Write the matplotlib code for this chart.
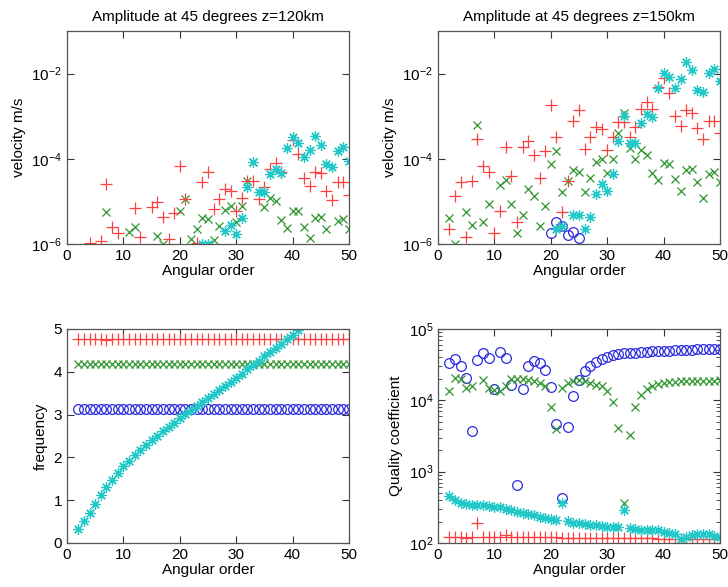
import numpy as np
import matplotlib
matplotlib.use("Agg")
import matplotlib.pyplot as plt
from matplotlib.ticker import LogLocator, NullLocator

plt.rcParams['font.family'] = ['Liberation Sans', 'DejaVu Sans']
plt.rcParams['mathtext.default'] = 'regular'

RED = '#ff4040'
GREEN = '#2f962f'
CYAN = '#22c8c8'
BLUE = '#2a2ae0'

# ---- top left: amplitude at z=120km ----
tl_red_l = [4, 6, 7, 8, 9, 12, 13, 15, 16, 17, 18, 19, 20, 21, 23, 24, 25, 26, 27, 28,
            29, 30, 31, 32, 33, 34, 35, 36, 37, 38, 40, 41, 42, 43, 44, 45, 46, 47, 48, 49, 50]
tl_red_v = [1.05e-6, 1.15e-6, 2.6e-5, 2.45e-6, 1.8e-6, 6.9e-6, 1.45e-6, 7.2e-6, 9.5e-6, 4.3e-6,
            1.3e-6, 5.4e-6, 6.6e-5, 1.15e-5, 1.05e-6, 2.8e-5, 5.0e-5, 6.5e-6, 1.15e-5, 2.0e-5,
            1.8e-5, 5.9e-6, 1.2e-5, 2.95e-5, 2.95e-5, 1.15e-5, 2.2e-5, 5.9e-5, 8.1e-5, 5.0e-5,
            2.8e-4, 1.3e-4, 3.5e-5, 2.35e-5, 5.0e-5, 4.6e-5, 1.8e-5, 1.05e-5, 2.8e-5, 2.8e-5, 1.45e-5]
tl_green_l = [7, 11, 12, 16, 17, 20, 21, 22, 23, 24, 25, 26, 27, 28, 29, 30, 31, 32, 33,
              35, 36, 37, 38, 39, 40, 41, 42, 43, 44, 45, 46, 48, 49, 50]
tl_green_v = [5.6e-6, 1.9e-6, 2.45e-6, 1.5e-6, 1.0e-6, 5.9e-6, 1.15e-5, 1.3e-6, 2.3e-6, 4.1e-6,
              3.9e-6, 1.25e-6, 2.6e-6, 6.3e-6, 7.6e-6, 3.3e-6, 7.6e-6, 2.95e-5, 8.3e-5,
              7.4e-6, 1.23e-5, 1.0e-5, 3.7e-6, 2.4e-6, 5.9e-6, 5.9e-6, 2.5e-6, 1.4e-6, 4.1e-6,
              4.3e-6, 2.2e-6, 3.5e-6, 3.9e-6, 2.2e-6]
tl_cyan_l = [24, 25, 28, 29, 30, 31, 32, 33, 34, 35, 36, 37, 38, 39, 40, 41, 42, 43, 44, 45,
             46, 47, 48, 49, 50]
tl_cyan_v = [1.0e-6, 1.0e-6, 2.0e-6, 2.8e-6, 1.7e-6, 4.1e-6, 2.2e-5, 8.3e-5, 1.7e-5, 1.7e-5,
             4.4e-5, 5.9e-5, 4.6e-5, 1.8e-4, 3.3e-4, 2.3e-4, 1.1e-4, 1.6e-4, 3.5e-4, 2.1e-4,
             7.4e-5, 6.3e-5, 1.55e-4, 1.85e-4, 9.1e-5]

# ---- top right: amplitude at z=150km ----
tr_red_l = list(range(2, 51))
tr_red_v = [2.2e-6, 1.35e-5, 2.9e-5, 1.45e-6, 2.95e-5, 2.95e-4, 6.6e-5, 4.9e-5, 1.8e-6, 5.8e-6,
            1.9e-4, 4.0e-5, 3.3e-6, 1.9e-4, 2.6e-4, 1.2e-4, 3.5e-5, 1.5e-4, 1.8e-3, 3.2e-4,
            5.5e-6, 2.95e-5, 7.6e-4, 1.4e-3, 1.7e-4, 3.2e-4, 5.6e-4, 5.0e-4, 1.6e-4, 3.2e-4,
            7.2e-4, 7.2e-4, 3.2e-4, 5.6e-4, 1.5e-3, 2.2e-3, 1.5e-3, 4.9e-3, 7.9e-3, 3.5e-3,
            1.0e-3, 6.0e-4, 1.4e-3, 1.2e-3, 5.2e-4, 2.95e-4, 7.9e-4, 7.9e-4, 4.1e-4]
tr_green_l = [2, 3, 5, 6, 7, 8, 9, 11, 12, 13, 14, 15, 16, 17, 18, 19, 20, 21, 22, 23, 24, 25,
              26, 27, 28, 29, 30, 31, 32, 33, 34, 35, 36, 37, 38, 39, 40, 41, 42, 43, 44, 45,
              46, 47, 48, 49, 50]
tr_green_v = [4.1e-6, 1.0e-6, 5.5e-6, 2.8e-6, 6.3e-4, 3.2e-6, 8.9e-6, 2.4e-5, 3.2e-5, 8.9e-6,
              1.8e-6, 4.8e-6, 1.95e-5, 1.35e-5, 2.6e-6, 7.9e-6, 7.6e-5, 1.55e-4, 1.65e-5, 3.0e-5,
              5.4e-5, 4.9e-5, 1.65e-5, 3.5e-5, 8.3e-5, 1.0e-4, 4.7e-5, 1.0e-4, 4.1e-4, 1.2e-3,
              1.8e-4, 1.0e-4, 1.65e-4, 1.25e-4, 4.7e-5, 3.2e-5, 7.8e-5, 7.6e-5, 3.4e-5, 1.8e-5,
              5.6e-5, 5.9e-5, 2.9e-5, 1.2e-5, 4.4e-5, 4.9e-5, 2.8e-5]
tr_cyan_l = [21, 22, 24, 25, 26, 27, 28, 29, 30, 31, 32, 33, 34, 35, 36, 37, 38, 39, 40, 41,
             42, 43, 44, 45, 46, 47, 48, 49, 50]
tr_cyan_v = [2.2e-6, 2.6e-6, 4.7e-6, 4.7e-6, 2.2e-6, 4.3e-6, 1.5e-5, 2.6e-5, 1.75e-5, 4.4e-5,
             2.6e-4, 1.0e-3, 2.3e-4, 2.3e-4, 6.8e-4, 1.1e-3, 9.5e-4, 4.6e-3, 1.05e-2, 8.3e-3,
             4.6e-3, 7.6e-3, 1.85e-2, 1.2e-2, 4.1e-3, 3.7e-3, 1.05e-2, 1.3e-2, 6.6e-3]
tr_blue_l = [20, 21, 22, 23, 24, 25]
tr_blue_v = [1.8e-6, 3.2e-6, 2.7e-6, 1.6e-6, 1.9e-6, 1.35e-6]

# ---- bottom: frequency and quality per angular order ----
order = list(range(2, 51))
freq_red = [4.77] * 5 + [4.74] + [4.77] * 43
freq_green = [4.18] * 49
freq_blue = [3.12] * 49
freq_cyan_l = list(range(2, 42))
freq_cyan = [0.33, 0.51, 0.70, 0.90, 1.11, 1.30, 1.48, 1.64, 1.79, 1.92,
             2.05, 2.17, 2.29, 2.40, 2.51, 2.61, 2.71, 2.81, 2.91, 3.01,
             3.11, 3.20, 3.30, 3.39, 3.49, 3.58, 3.67, 3.77, 3.86, 3.96,
             4.06, 4.16, 4.26, 4.36, 4.46, 4.56, 4.66, 4.76, 4.87, 4.97]

q_blue = [33500, 37800, 30000, 20400, 3760, 37300, 46300, 39800, 14400, 46900,
          38600, 16200, 658, 14600, 30000, 35400, 33500, 26700, 15400, 4660,
          423, 4290, 11600, 19000, 25600, 30400, 34600, 37800, 40700, 42600,
          44400, 45400, 46000, 46800, 47500, 48000, 48500, 49000, 49400, 49800,
          50200, 50600, 51000, 51300, 51700, 52000, 52400, 52700, 53000]
q_green = [13300, 20600, 20100, 14800, 16000, np.nan, 19500, 14900, 14100, 13300,
           15700, 20000, 20000, 20000, 19400, 18500, 17700, 15700, 8000, 4000,
           14900, 17700, 18500, 19000, 18500, 17700, 16600, 15700, 13500, 9600,
           4100, 360, 3300, 8100, 11800, 14200, 15700, 16800, 17500, 18000,
           18300, 18500, 18600, 18700, 18800, 18800, 18900, 18900, 19000]
q_red = [123, 123, 123, 118, 121, 192, 122, 122, 122, 122,
         130, 121, 121, 121, 120, 120, 120, 120, 120, 120,
         119, 119, 119, 119, 119, 118, 118, 118, 118, 118,
         117, 117, 117, 116, 116, 116, 116, 115, 115, 115,
         115, 114, 114, 114, 114, 113, 113, 113, 113]
q_cyan = [457, 396, 367, 347, 340, 338, 336, 333, 322, 315,
          297, 286, 274, 264, 251, 245, 233, 224, 215, 209,
          367, 202, 192, 188, 183, 180, 176, 171, 170, 168,
          168, 286, 163, 158, 153, 153, 153, 150, 144, 140,
          134, 115, 120, 131, 135, 135, 133, 127, 120]

fig = plt.figure(figsize=(7.28, 5.87), dpi=100)
W, H = 728.0, 587.0
ax_tl = fig.add_axes([67 / W, 1 - 244 / H, 282 / W, 213 / H])
ax_tr = fig.add_axes([438 / W, 1 - 244 / H, 282 / W, 213 / H])
ax_bl = fig.add_axes([67 / W, 1 - 543 / H, 282 / W, 214 / H])
ax_br = fig.add_axes([438 / W, 1 - 543 / H, 282 / W, 214 / H])

mk = dict(linestyle='none', markerfacecolor='none')
ASTERISK = (8, 2, 0)


def plus(ax, x, y):
    ax.plot(x, y, '+', color=RED, ms=8, mew=0.9, **mk)


def cross(ax, x, y):
    ax.plot(x, y, 'x', color=GREEN, ms=6, mew=0.9, **mk)


def star(ax, x, y):
    ax.plot(x, y, marker=ASTERISK, color=CYAN, ms=7.5, mew=0.9, **mk)


def circ(ax, x, y):
    ax.plot(x, y, 'o', color=BLUE, ms=7, mew=0.9, **mk)


cross(ax_tl, tl_green_l, tl_green_v)
plus(ax_tl, tl_red_l, tl_red_v)
star(ax_tl, tl_cyan_l, tl_cyan_v)

circ(ax_tr, tr_blue_l, tr_blue_v)
cross(ax_tr, tr_green_l, tr_green_v)
plus(ax_tr, tr_red_l, tr_red_v)
star(ax_tr, tr_cyan_l, tr_cyan_v)

circ(ax_bl, order, freq_blue)
cross(ax_bl, order, freq_green)
plus(ax_bl, order, freq_red)
star(ax_bl, freq_cyan_l, freq_cyan)

circ(ax_br, order, q_blue)
cross(ax_br, order, q_green)
plus(ax_br, order, q_red)
star(ax_br, order, q_cyan)

for ax, z in [(ax_tl, 120), (ax_tr, 150)]:
    ax.set_yscale('log')
    ax.set_ylim(1e-6, 1e-1)
    ax.set_yticks([1e-6, 1e-4, 1e-2])
    ax.yaxis.set_minor_locator(NullLocator())
    ax.set_ylabel('velocity m/s', fontsize=11)
    ax.set_title('Amplitude at 45 degrees z=%dkm' % z, fontsize=11, pad=7)

ax_bl.set_ylim(0, 5)
ax_bl.set_yticks([0, 1, 2, 3, 4, 5])
ax_bl.set_ylabel('frequency', fontsize=11)

ax_br.set_yscale('log')
ax_br.set_ylim(1e2, 1e5)
ax_br.set_yticks([1e2, 1e3, 1e4, 1e5])
ax_br.yaxis.set_minor_locator(LogLocator(base=10, subs=np.arange(2, 10)))
ax_br.set_ylabel('Quality coefficient', fontsize=11)

for ax in [ax_tl, ax_tr, ax_bl, ax_br]:
    ax.set_xlim(0, 50)
    ax.set_xticks([0, 10, 20, 30, 40, 50])
    ax.set_xlabel('Angular order', fontsize=11, labelpad=1)
    ax.tick_params(which='both', direction='in', top=True, right=True,
                   labelsize=11, color='#333333')
    ax.tick_params(which='major', length=5)
    ax.tick_params(which='minor', length=3)
    for s in ax.spines.values():
        s.set_color('#555555')
        s.set_linewidth(0.9)

fig.savefig('out.png', dpi=100)
